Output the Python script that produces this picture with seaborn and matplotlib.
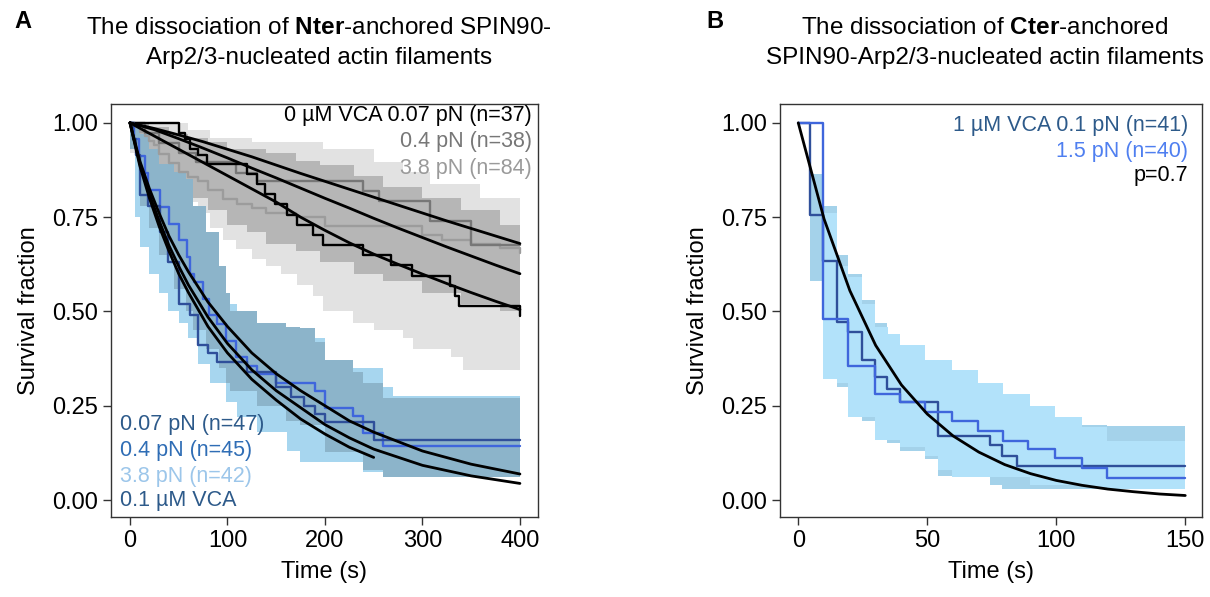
import matplotlib
matplotlib.use("Agg")
import matplotlib.pyplot as plt
import numpy as np
import seaborn as sns

sns.set_theme(style="ticks")
plt.rcParams['font.family'] = ['Liberation Sans', 'DejaVu Sans']
plt.rcParams['mathtext.fontset'] = 'custom'
plt.rcParams['mathtext.rm'] = 'Liberation Sans'
plt.rcParams['mathtext.bf'] = 'Liberation Sans:bold'
for key in ('text.color', 'axes.labelcolor', 'xtick.color', 'ytick.color'):
    plt.rcParams[key] = 'black'

# ---------------- Panel A: Nter-anchored ----------------
# 0 uM VCA, step curves (Kaplan-Meier)
a_black_t = [0, 50, 56, 62, 70, 79, 120, 130, 139, 149, 161, 171, 188, 198, 239, 268, 289, 328, 333, 338, 400]
a_black_s = [1.0, 0.973, 0.957, 0.93, 0.914, 0.892, 0.865, 0.838, 0.811, 0.784, 0.757, 0.73, 0.703, 0.676,
             0.649, 0.622, 0.595, 0.568, 0.541, 0.514, 0.487]
a_gray_t = [0, 15, 30, 50, 68, 109, 130, 239, 255, 308, 350, 400]
a_gray_s = [1.0, 0.974, 0.947, 0.921, 0.895, 0.868, 0.847, 0.82, 0.792, 0.739, 0.676, 0.676]
a_lgray_t = [0, 5, 10, 15, 20, 25, 30, 40, 50, 60, 70, 80, 95, 110, 125, 140, 170, 200, 300, 320, 350, 380, 400]
a_lgray_s = [1.0, 0.988, 0.976, 0.964, 0.952, 0.94, 0.917, 0.893, 0.869, 0.857, 0.845, 0.821, 0.798, 0.786,
             0.774, 0.762, 0.75, 0.726, 0.702, 0.69, 0.679, 0.667, 0.655]

# 0 uM VCA confidence bands
a_gband_t = [0, 20, 40, 60, 80, 100, 120, 140, 170, 195, 230, 260, 300, 340, 380, 400]
a_gband_lo = [0.93, 0.88, 0.84, 0.80, 0.77, 0.73, 0.71, 0.68, 0.66, 0.63, 0.60, 0.58, 0.55, 0.52, 0.50, 0.50]
a_gband_hi = [1.0, 0.99, 0.97, 0.96, 0.95, 0.93, 0.93, 0.92, 0.90, 0.887, 0.86, 0.83, 0.80, 0.77, 0.73, 0.73]
a_lband_t = [0, 10, 20, 30, 40, 50, 60, 70, 82, 95, 109, 125, 140, 155, 171, 188, 198, 229, 250, 280, 290, 308,
             329, 342, 359, 400]
a_lband_lo = [0.92, 0.90, 0.88, 0.86, 0.84, 0.82, 0.79, 0.76, 0.72, 0.69, 0.665, 0.64, 0.62, 0.60, 0.57, 0.54,
              0.50, 0.47, 0.45, 0.43, 0.40, 0.40, 0.38, 0.344, 0.344, 0.344]
a_lband_hi = [1.0, 1.0, 1.0, 1.0, 1.0, 1.0, 0.98, 0.98, 0.96, 0.96, 0.96, 0.95, 0.95, 0.95, 0.95, 0.95, 0.93,
              0.93, 0.896, 0.869, 0.869, 0.838, 0.838, 0.838, 0.80, 0.80]

# 0.1 uM VCA step curves
a_navy_t = [0, 3, 6, 10, 19, 31, 39, 50, 62, 70, 80, 89, 120, 150, 165, 179, 190, 200, 250, 400]
a_navy_s = [1.0, 0.957, 0.915, 0.81, 0.78, 0.71, 0.63, 0.52, 0.49, 0.41, 0.39, 0.366, 0.34, 0.30, 0.273, 0.25,
            0.229, 0.207, 0.158, 0.158]
a_royal_t = [0, 4, 9, 15, 19, 31, 40, 50, 58, 62, 66, 75, 81, 89, 99, 109, 120, 130, 150, 190, 200, 229, 239,
             260, 400]
a_royal_s = [1.0, 0.956, 0.911, 0.867, 0.822, 0.778, 0.733, 0.689, 0.644, 0.60, 0.578, 0.533, 0.49, 0.467,
             0.422, 0.378, 0.356, 0.333, 0.311, 0.289, 0.244, 0.222, 0.178, 0.144, 0.144]

# 0.1 uM VCA confidence bands
a_bband_t = [0, 5, 10, 20, 30, 39, 50, 60, 70, 82, 99, 110, 130, 161, 174, 200, 239, 260, 270, 400]
a_bband_lo = [0.95, 0.75, 0.67, 0.60, 0.55, 0.50, 0.47, 0.43, 0.36, 0.31, 0.26, 0.22, 0.18, 0.13, 0.10, 0.10,
              0.075, 0.06, 0.06, 0.06]
a_bband_hi = [1.0, 0.96, 0.93, 0.89, 0.86, 0.84, 0.80, 0.75, 0.70, 0.62, 0.52, 0.48, 0.46, 0.44, 0.43, 0.35,
              0.35, 0.30, 0.275, 0.275]
a_sband_t = [0, 10, 20, 30, 45, 57, 65, 78, 91, 99, 103, 130, 160, 174, 190, 200, 229, 239, 260, 400]
a_sband_lo = [0.93, 0.78, 0.72, 0.65, 0.56, 0.50, 0.45, 0.40, 0.35, 0.31, 0.29, 0.25, 0.21, 0.20, 0.20, 0.127,
              0.127, 0.08, 0.06, 0.06]
a_sband_hi = [1.0, 0.97, 0.93, 0.89, 0.87, 0.85, 0.78, 0.71, 0.62, 0.55, 0.50, 0.47, 0.46, 0.455, 0.42, 0.37,
              0.34, 0.31, 0.27, 0.27]

# fitted survival curves, panel A
a_fit_t = [0, 25, 50, 75, 100, 125, 150, 175, 200, 225, 250, 275, 300, 325, 350, 375, 400]
a_fit1 = [1.0, 0.985, 0.968, 0.95, 0.93, 0.91, 0.888, 0.866, 0.845, 0.824, 0.803, 0.782, 0.761, 0.74, 0.72,
          0.70, 0.68]
a_fit2 = [1.0, 0.982, 0.958, 0.933, 0.907, 0.88, 0.854, 0.827, 0.80, 0.774, 0.747, 0.721, 0.696, 0.671, 0.647,
          0.623, 0.60]
a_fit3 = [1.0, 0.965, 0.93, 0.895, 0.86, 0.825, 0.79, 0.75, 0.715, 0.682, 0.652, 0.625, 0.599, 0.574, 0.55,
          0.527, 0.505]
a_bfit_t = [0, 10, 20, 30, 40, 50, 60, 80, 100, 125, 150, 175, 200, 225, 250, 300, 350, 400]
a_bfit1 = [1.0, 0.90, 0.825, 0.76, 0.70, 0.65, 0.605, 0.525, 0.46, 0.39, 0.335, 0.29, 0.25, 0.21, 0.18, 0.13,
           0.095, 0.069]
a_bfit2 = [1.0, 0.893, 0.81, 0.74, 0.675, 0.62, 0.57, 0.485, 0.415, 0.345, 0.29, 0.245, 0.20, 0.165, 0.135,
           0.092, 0.064, 0.044]
a_bfit3_t = [0, 10, 20, 30, 40, 50, 60, 80, 100, 125, 150, 175, 200, 225, 250]
a_bfit3 = [1.0, 0.887, 0.80, 0.725, 0.66, 0.60, 0.55, 0.46, 0.39, 0.32, 0.265, 0.215, 0.175, 0.14, 0.113]

# ---------------- Panel B: Cter-anchored ----------------
b_navy_t = [0, 4.5, 9.5, 14.9, 19.4, 24.6, 29.7, 34.3, 39.4, 54.3, 74.3, 78.8, 84.7, 150]
b_navy_s = [1.0, 0.756, 0.634, 0.471, 0.445, 0.37, 0.325, 0.294, 0.259, 0.17, 0.145, 0.117, 0.089, 0.089]
b_royal_t = [0, 9.7, 19.4, 29.7, 39.4, 49.1, 59.5, 69.8, 79.5, 89.1, 99.5, 109.8, 119.5, 150]
b_royal_s = [1.0, 0.48, 0.356, 0.281, 0.259, 0.233, 0.21, 0.184, 0.157, 0.136, 0.111, 0.084, 0.058, 0.058]

b_band1_t = [0, 4.5, 9.5, 14.9, 19.4, 24.6, 29.7, 34.3, 39.4, 49.1, 54.3, 59.5, 74.3, 78.8, 84.7, 119.5, 150]
b_band1_lo = [1.0, 0.58, 0.45, 0.30, 0.28, 0.21, 0.17, 0.15, 0.13, 0.11, 0.064, 0.064, 0.04, 0.03, 0.03, 0.03,
              0.03]
b_band1_hi = [1.0, 0.865, 0.78, 0.65, 0.60, 0.53, 0.47, 0.44, 0.40, 0.37, 0.30, 0.30, 0.27, 0.24, 0.20, 0.197,
              0.197]
b_band2_t = [0, 9.7, 14.9, 19.4, 24.6, 29.7, 34.8, 39.4, 49.1, 54.3, 59.5, 69.8, 79.5, 89.8, 99.5, 109.8, 119.5,
             150]
b_band2_lo = [1.0, 0.32, 0.31, 0.22, 0.22, 0.16, 0.16, 0.14, 0.117, 0.08, 0.06, 0.06, 0.06, 0.04, 0.04, 0.035,
              0.03, 0.03]
b_band2_hi = [1.0, 0.76, 0.62, 0.59, 0.52, 0.46, 0.44, 0.41, 0.37, 0.37, 0.345, 0.31, 0.28, 0.25, 0.22, 0.194,
              0.157, 0.157]

b_fit_t = [0, 10, 20, 30, 40, 50, 60, 70, 80, 90, 100, 110, 120, 130, 140, 150]
b_fit_s = [1.0, 0.745, 0.555, 0.41, 0.305, 0.228, 0.17, 0.127, 0.094, 0.07, 0.052, 0.039, 0.029, 0.022, 0.016,
           0.012]

yticks = [0.0, 0.25, 0.5, 0.75, 1.0]
ytick_labels = ["0.00", "0.25", "0.50", "0.75", "1.00"]

# colours
NAVY = '#2f4f9a'
ROYAL = '#3f66dc'
TXT_NAVY = '#2d5a8a'
TXT_MID = '#2f6db5'
TXT_LIGHT = '#9cc6ea'

fig = plt.figure(figsize=(12.1, 5.97), dpi=100)
axA = fig.add_axes([0.0917, 0.1340, 0.3529, 0.6918])
axB = fig.add_axes([0.6446, 0.1340, 0.3488, 0.6918])


def step_line(ax, t, s, color, lw=1.7):
    sns.lineplot(x=t, y=s, ax=ax, color=color, lw=lw, drawstyle='steps-post',
                 estimator=None, sort=False, legend=False)


def fit_line(ax, t, s):
    sns.lineplot(x=t, y=s, ax=ax, color='black', lw=2.0, estimator=None, sort=False, legend=False)


# --- panel A
axA.fill_between(a_lband_t, a_lband_lo, a_lband_hi, step='post', color='#e2e2e2', lw=0)
axA.fill_between(a_gband_t, a_gband_lo, a_gband_hi, step='post', color='#b6b6b6', lw=0)
axA.fill_between(a_bband_t, a_bband_lo, a_bband_hi, step='post', color='#a7d6ef', lw=0)
axA.fill_between(a_sband_t, a_sband_lo, a_sband_hi, step='post', color='#8cb4ca', lw=0)

step_line(axA, a_lgray_t, a_lgray_s, '#9c9c9c')
step_line(axA, a_gray_t, a_gray_s, '#777777')
step_line(axA, a_black_t, a_black_s, 'black')
step_line(axA, a_royal_t, a_royal_s, ROYAL)
step_line(axA, a_navy_t, a_navy_s, NAVY)

for f in (a_fit1, a_fit2, a_fit3):
    fit_line(axA, a_fit_t, f)
fit_line(axA, a_bfit_t, a_bfit1)
fit_line(axA, a_bfit_t, a_bfit2)
fit_line(axA, a_bfit3_t, a_bfit3)

axA.set_xlim(-19.5, 418.5)
axA.set_xticks([0, 100, 200, 300, 400])

kw = dict(transform=axA.transAxes, ha='right', va='center', fontsize=15.5)
axA.text(0.986, 0.971, "0 µM VCA 0.07 pN (n=37)", color='black', **kw)
axA.text(0.986, 0.908, "0.4 pN (n=38)", color='#777777', **kw)
axA.text(0.986, 0.843, "3.8 pN (n=84)", color='#9a9a9a', **kw)
kw = dict(transform=axA.transAxes, ha='left', va='center', fontsize=15.5)
axA.text(0.021, 0.223, "0.07 pN (n=47)", color=TXT_NAVY, **kw)
axA.text(0.021, 0.162, "0.4 pN (n=45)", color=TXT_MID, **kw)
axA.text(0.021, 0.099, "3.8 pN (n=42)", color=TXT_LIGHT, **kw)
axA.text(0.021, 0.039, "0.1 µM VCA", color=TXT_NAVY, **kw)

# --- panel B
axB.fill_between(b_band1_t, b_band1_lo, b_band1_hi, step='post', color='#a4d2ea', lw=0)
axB.fill_between(b_band2_t, b_band2_lo, b_band2_hi, step='post', color='#b2e2fa', lw=0)
step_line(axB, b_navy_t, b_navy_s, NAVY)
step_line(axB, b_royal_t, b_royal_s, ROYAL)
fit_line(axB, b_fit_t, b_fit_s)

axB.set_xlim(-7.1, 156.5)
axB.set_xticks([0, 50, 100, 150])

kw = dict(transform=axB.transAxes, ha='right', va='center', fontsize=15.5)
axB.text(0.967, 0.947, "1 µM VCA 0.1 pN (n=41)", color=TXT_NAVY, **kw)
axB.text(0.967, 0.886, "1.5 pN (n=40)", color='#4f7ff0', **kw)
axB.text(0.967, 0.828, "p=0.7", color='black', **kw)

for ax in (axA, axB):
    ax.set_ylim(-0.045, 1.05)
    ax.set_yticks(yticks)
    ax.set_yticklabels(ytick_labels)
    ax.tick_params(axis='both', labelsize=17, length=6, width=1, color='#333333', pad=3)
    ax.set_xlabel("Time (s)", fontsize=17, labelpad=7)
    ax.set_ylabel("Survival fraction", fontsize=17, labelpad=9)
    for sp in ax.spines.values():
        sp.set_color('#333333')
        sp.set_linewidth(1.0)

# titles and panel letters
fig.text(0.264, 1 - 28 / 597, r"The dissociation of $\bf{Nter}$-anchored SPIN90-",
         ha='center', va='center', fontsize=17.5)
fig.text(0.264, 1 - 58 / 597, "Arp2/3-nucleated actin filaments", ha='center', va='center', fontsize=17.5)
fig.text(0.814, 1 - 28 / 597, r"The dissociation of $\bf{Cter}$-anchored",
         ha='center', va='center', fontsize=17.5)
fig.text(0.814, 1 - 58 / 597, "SPIN90-Arp2/3-nucleated actin filaments", ha='center', va='center',
         fontsize=17.5)
fig.text(14 / 1210, 1 - 22 / 597, "A", fontsize=17, fontweight='bold', ha='left', va='center')
fig.text(706 / 1210, 1 - 22 / 597, "B", fontsize=17, fontweight='bold', ha='left', va='center')

fig.savefig("out.png", dpi=100)
